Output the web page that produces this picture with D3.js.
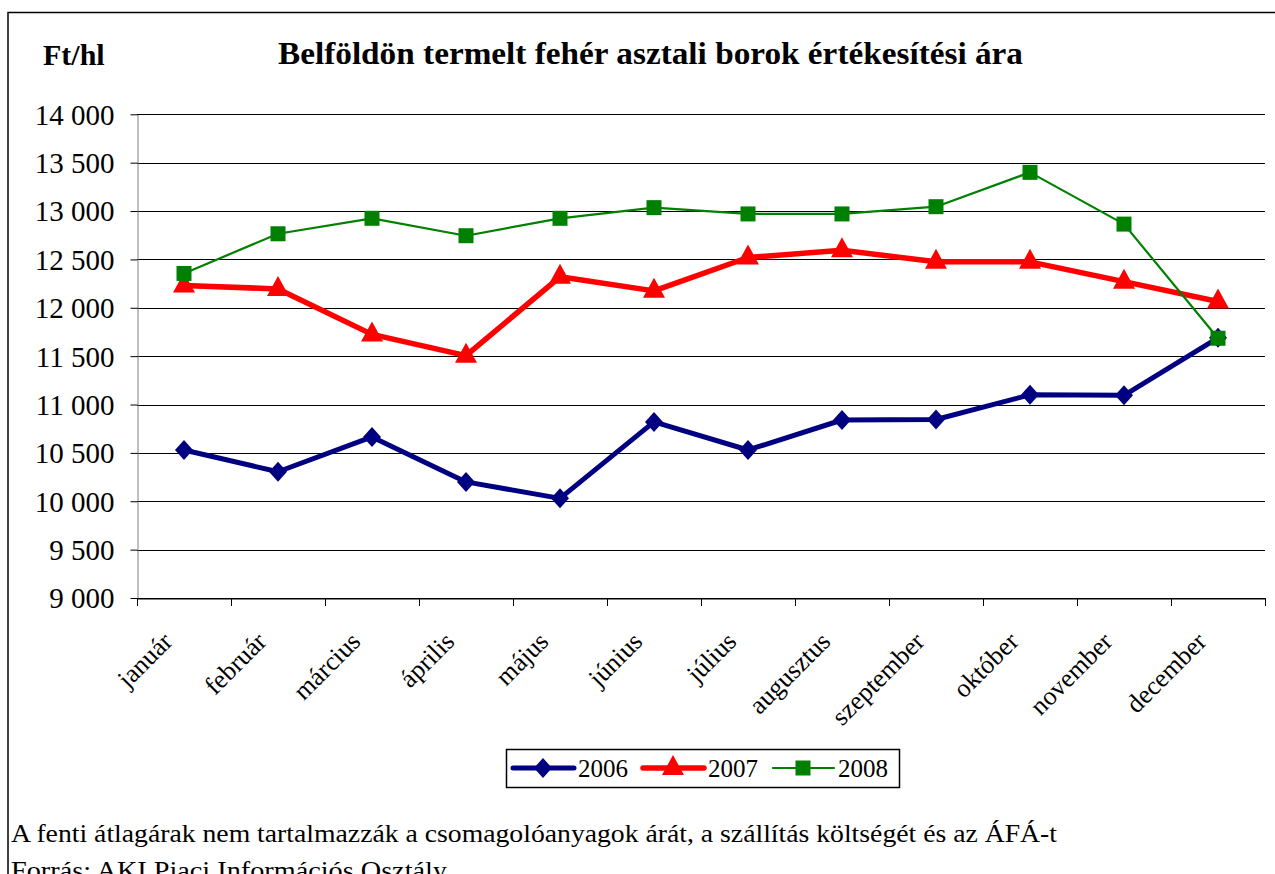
<!DOCTYPE html>
<html><head><meta charset="utf-8">
<script src="https://cdn.jsdelivr.net/npm/d3@7"></script>
<style>body{margin:0;background:#fff}svg{display:block}text{font-family:"Liberation Serif","Times New Roman",serif}</style>
</head><body><svg id="c" width="1275" height="874"></svg>
<script>
const months = ["január","február","március","április","május","június","július","augusztus","szeptember","október","november","december"];
const years = ["2006","2007","2008"];
const v2006 = [10530,10305,10665,10200,10030,10820,10530,10840,10845,11100,11095,11690];
const v2007 = [12230,12195,11725,11505,12320,12175,12520,12595,12475,12475,12270,12065];
const v2008 = [12355,12765,12925,12745,12925,13035,12970,12970,13045,13400,12865,11685];
const yTicks = [9000,9500,10000,10500,11000,11500,12000,12500,13000,13500,14000];
const colors = ["#000080","#ff0000","#008000"];

const svg = d3.select("#c");
const L=137,R=1265,T=114.3,B=598;
svg.append("rect").attr("x",8).attr("y",12.5).attr("width",1300).attr("height",900).attr("fill","#fff").attr("stroke","#000").attr("stroke-width",1.5);

const x = d3.scaleBand().domain(months).range([L,R]).padding(0);
const y = d3.scaleLinear().domain([9000,14000]).range([B,T]);
const fmt = v => d3.format(",")(v).replace(/,/g," ");

// gridlines
svg.append("g").selectAll("line").data(yTicks).join("line")
  .attr("x1",L).attr("x2",R).attr("y1",d=>Math.round(y(d))+0.5).attr("y2",d=>Math.round(y(d))+0.5)
  .attr("stroke","#000").attr("stroke-width",1);

// y axis
const ya = svg.append("g").attr("transform",`translate(${L+0.5},0)`)
  .call(d3.axisLeft(y).tickValues(yTicks).tickFormat(fmt).tickSize(7).tickSizeOuter(0));
ya.attr("font-family",null);
ya.select(".domain").attr("stroke","#808080");
ya.selectAll(".tick line").attr("stroke","#000");
ya.selectAll(".tick text").attr("font-size",29).attr("fill","#000").attr("dy","0.34em").attr("x",-23);

// x axis
const xa = svg.append("g").attr("transform",`translate(0,${Math.round(B)+0.5})`)
  .call(d3.axisBottom(x).tickSize(0).tickSizeOuter(0));
xa.select(".domain").attr("stroke","#000");
xa.selectAll(".tick text").remove();
svg.append("g").selectAll("line").data(d3.range(13)).join("line")
  .attr("x1",i=>Math.round(L+i*x.bandwidth())+0.5).attr("x2",i=>Math.round(L+i*x.bandwidth())+0.5)
  .attr("y1",B).attr("y2",B+8).attr("stroke","#000");
svg.append("g").selectAll("text").data(months).join("text")
  .attr("transform",d=>`translate(${x(d)+x.bandwidth()/2-10},${643}) rotate(-45)`)
  .attr("text-anchor","end").attr("font-size",26).text(d=>d);

// series
const series = [v2006,v2007,v2008];
const widths = [5,5.5,2.2];
const line = d3.line().x((d,i)=>x(months[i])+x.bandwidth()/2).y(d=>y(d));
series.forEach((s,k)=>{
  svg.append("path").datum(s).attr("d",line).attr("fill","none").attr("stroke",colors[k]).attr("stroke-width",widths[k]).attr("stroke-linejoin","round");
});
function drawMarker(g,k,cx,cy){
  if(k===0){
    g.append("path").attr("d",`M${cx},${cy-10}L${cx+9},${cy}L${cx},${cy+10}L${cx-9},${cy}Z`).attr("fill",colors[0]);
  } else if(k===1){
    g.append("path").attr("d",`M${cx},${cy-13}L${cx+11},${cy+7}L${cx-11},${cy+7}Z`).attr("fill",colors[1]);
  } else {
    g.append("rect").attr("x",cx-7.5).attr("y",cy-7.5).attr("width",15).attr("height",15).attr("fill",colors[2]);
  }
}
series.forEach((s,k)=>{
  const g = svg.append("g");
  s.forEach((v,i)=>drawMarker(g,k,x(months[i])+x.bandwidth()/2,y(v)));
});

// titles
svg.append("text").attr("x",278).attr("y",64).attr("font-weight","bold").attr("font-size",32)
  .attr("textLength",745).attr("lengthAdjust","spacingAndGlyphs").text("Belföldön termelt fehér asztali borok értékesítési ára");
svg.append("text").attr("x",43).attr("y",65).attr("font-weight","bold").attr("font-size",30).text("Ft/hl");

// legend
const lg = svg.append("g");
lg.append("rect").attr("x",506.5).attr("y",749.5).attr("width",393).attr("height",38).attr("fill","#fff").attr("stroke","#000").attr("stroke-width",1.5);
const lx = [513,643,773];
years.forEach((yr,k)=>{
  lg.append("line").attr("x1",lx[k]).attr("x2",lx[k]+61).attr("y1",768).attr("y2",768).attr("stroke",colors[k]).attr("stroke-width",widths[k]).attr("stroke-linecap","round");
  drawMarker(lg,k,lx[k]+30,768);
  lg.append("text").attr("x",lx[k]+65).attr("y",777).attr("font-size",25).text(yr);
});

// footnotes
svg.append("text").attr("x",11).attr("y",842).attr("font-size",25).attr("textLength",1046).attr("lengthAdjust","spacingAndGlyphs")
  .text("A fenti átlagárak nem tartalmazzák a csomagolóanyagok árát, a szállítás költségét és az ÁFÁ-t");
svg.append("text").attr("x",11).attr("y",879).attr("font-size",25).attr("textLength",436).attr("lengthAdjust","spacingAndGlyphs")
  .text("Forrás: AKI Piaci Információs Osztály");
</script></body></html>
